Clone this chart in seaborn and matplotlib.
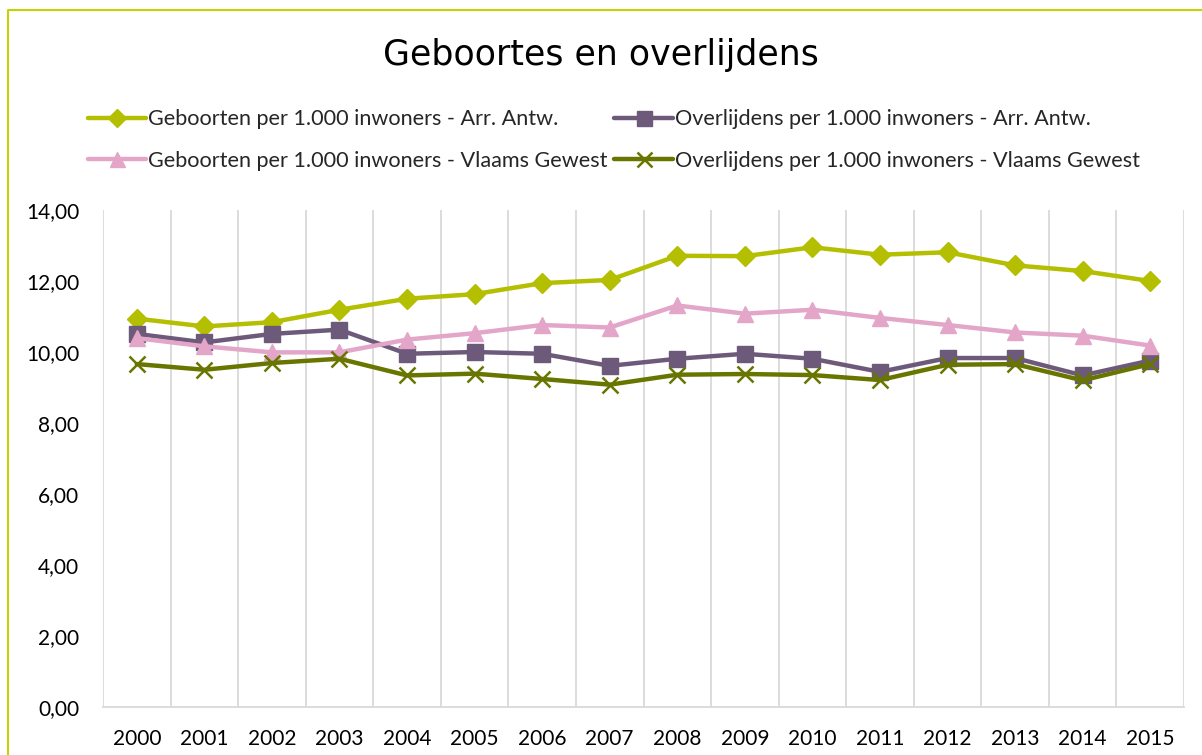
import matplotlib.pyplot as plt
import matplotlib.ticker as mticker
import seaborn as sns

# Data
years = [str(y) for y in range(2000, 2016)]
geb_arr = [10.94, 10.72, 10.84, 11.19, 11.50, 11.63, 11.94, 12.03,
           12.71, 12.70, 12.95, 12.74, 12.81, 12.44, 12.28, 12.00]
ovl_arr = [10.51, 10.27, 10.51, 10.63, 9.95, 10.00, 9.95, 9.61,
           9.81, 9.95, 9.81, 9.44, 9.83, 9.83, 9.34, 9.76]
geb_vl = [10.39, 10.16, 9.99, 9.99, 10.35, 10.53, 10.76, 10.69,
          11.31, 11.08, 11.19, 10.96, 10.76, 10.55, 10.46, 10.18]
ovl_vl = [9.66, 9.50, 9.69, 9.81, 9.34, 9.39, 9.24, 9.08,
          9.36, 9.38, 9.35, 9.21, 9.64, 9.66, 9.20, 9.66]

labels = ['Geboorten per 1.000 inwoners - Arr. Antw.',
          'Overlijdens per 1.000 inwoners - Arr. Antw.',
          'Geboorten per 1.000 inwoners - Vlaams Gewest',
          'Overlijdens per 1.000 inwoners - Vlaams Gewest']
colors = ['#B3BF00', '#6D5A7B', '#E3A6C9', '#687600']
markers = ['D', 's', '^', 'x']
msizes = [10, 12, 12, 12]

series = [geb_arr, ovl_arr, geb_vl, ovl_vl]
pos = list(range(len(years)))

sns.set_theme(style='white')
plt.rcParams['font.family'] = ['Lato', 'DejaVu Sans']

fig = plt.figure(figsize=(12.02, 7.55), dpi=100)
ax = fig.add_axes([103 / 1202, 1 - 707 / 755, (1184 - 103) / 1202, (707 - 210) / 755])

for vals, c, m, ms in zip(series, colors, markers, msizes):
    sns.lineplot(x=pos, y=vals, color=c, marker=m, markersize=ms,
                 markeredgecolor=c, markerfacecolor=c,
                 markeredgewidth=1.8 if m == 'x' else 1,
                 linewidth=3.2, ax=ax, legend=False)

ax.set_xlim(-0.5, len(years) - 0.5)
ax.set_ylim(0, 14)
ax.set_xticks(pos)
ax.set_xticklabels(years)
ax.xaxis.set_minor_locator(mticker.FixedLocator([i + 0.5 for i in range(-1, len(years))]))
ax.grid(which='minor', axis='x', color='#D9D9D9', linewidth=1.3)
ax.grid(which='major', axis='both', visible=False)
ax.set_yticks(range(0, 15, 2))
ax.yaxis.set_major_formatter(mticker.FuncFormatter(lambda v, p: f'{v:.2f}'.replace('.', ',')))
ax.tick_params(axis='both', which='both', length=0, labelsize=15, colors='#000000')
ax.tick_params(axis='x', pad=16)
ax.tick_params(axis='y', pad=17)
for s in ['top', 'left', 'right']:
    ax.spines[s].set_visible(False)
ax.spines['bottom'].set_color('#D9D9D9')
ax.spines['bottom'].set_linewidth(1.3)
ax.set_xlabel('')
ax.set_ylabel('')

handles = [plt.Line2D([], [], color=c, marker=m, markersize=ms * 0.9, linewidth=3.2,
                      markeredgewidth=1.8 if m == 'x' else 1)
           for c, m, ms in zip(colors, markers, msizes)]
# matplotlib fills legend columns first; reorder so entries read row by row
order = [0, 2, 1, 3]
fig.legend([handles[i] for i in order], [labels[i] for i in order], ncol=2, loc='center',
           bbox_to_anchor=(614 / 1202, 1 - 140 / 755), frameon=False, fontsize=15.6,
           handlelength=2.7, handletextpad=0.1, columnspacing=0.3, labelspacing=1.0)

fig.text(0.5, 1 - 55 / 755, 'Geboortes en overlijdens', ha='center', va='center',
         fontsize=25, family=['DejaVu Sans'], color='#000000')

# outer frame of the chart area
fig.add_artist(plt.Line2D([8 / 1202, 8 / 1202, 1], [0, 1 - 10 / 755, 1 - 10 / 755],
                          transform=fig.transFigure, color='#C4D300', linewidth=1.5))

fig.savefig('out.png', dpi=100, facecolor='white')
